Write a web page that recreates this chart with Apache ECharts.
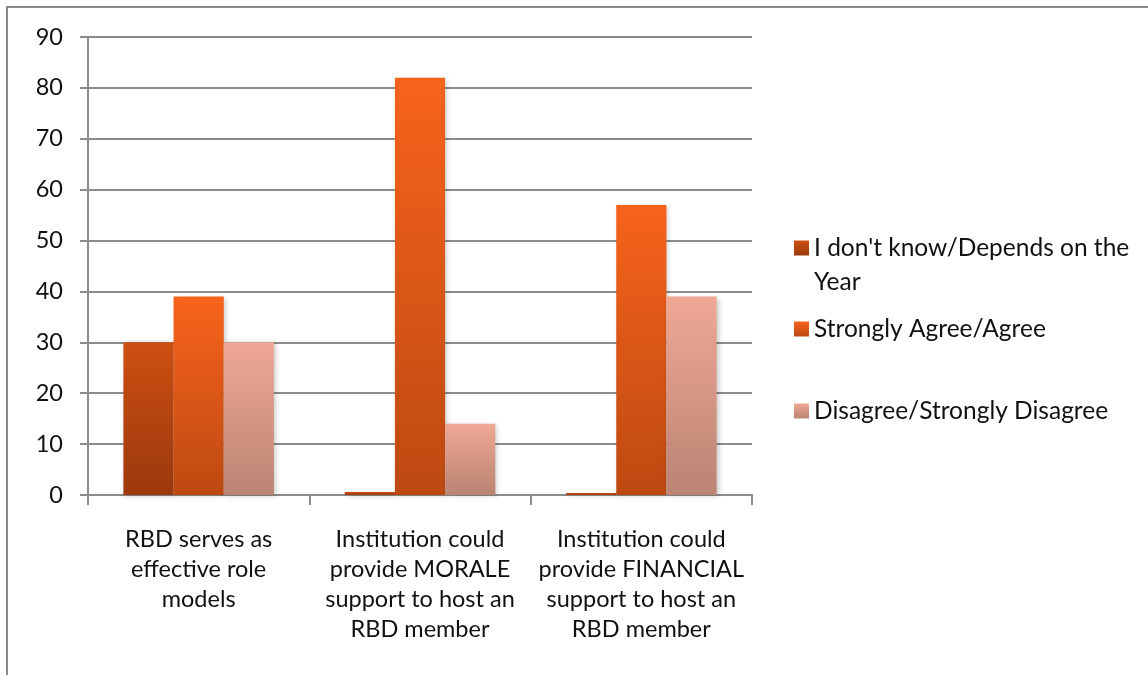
<!DOCTYPE html>
<html>
<head>
<meta charset="utf-8">
<style>
  html, body { margin: 0; padding: 0; background: #ffffff; }
  #chart { width: 1148px; height: 675px; }
</style>
<script src="https://cdn.jsdelivr.net/npm/echarts@6/dist/echarts.min.js"></script>
</head>
<body>
<div id="chart"></div>
<script>
// Survey questions (x-axis categories)
const categories = [
  "RBD serves as\neffective role\nmodels",
  "Institution could\nprovide MORALE\nsupport to host an\nRBD member",
  "Institution could\nprovide FINANCIAL\nsupport to host an\nRBD member"
];

// Response series (percent)
const seriesNames = [
  "I don't know/Depends on the Year",
  "Strongly Agree/Agree",
  "Disagree/Strongly Disagree"
];
const dontKnow = [30, 0.6, 0.4];
const agree = [39, 82, 57];
const disagree = [30, 14, 39];

const yTicks = { min: 0, max: 90, interval: 10 };

const FONT = "Lato, 'Open Sans', sans-serif";
const FONT_SIZE = 23.5;
const LEGEND_FONT_SIZE = 24.5;
const TEXT_COLOR = '#111111';

function grad(top, bottom) {
  return new echarts.graphic.LinearGradient(0, 0, 0, 1, [
    { offset: 0, color: top },
    { offset: 1, color: bottom }
  ]);
}

const palette = [
  grad('#cd4f12', '#9b390d'),
  grad('#f7631b', '#bd4912'),
  grad('#f0a895', '#ba8473')
];

const values = [dontKnow, agree, disagree];

const chart = echarts.init(document.getElementById('chart'), null, { renderer: 'canvas' });

const legendText = { fontFamily: FONT, fontSize: LEGEND_FONT_SIZE, color: TEXT_COLOR, lineHeight: 34 };

const legendBase = {
  orient: 'vertical',
  left: 789,
  icon: 'rect',
  itemWidth: 15,
  itemHeight: 15,
  itemGap: 0,
  selectedMode: false,
  textStyle: legendText
};

chart.setOption({
  animation: false,
  backgroundColor: '#ffffff',
  graphic: [{
    type: 'rect',
    shape: { x: 7, y: 7, width: 1200, height: 720 },
    style: { fill: 'none', stroke: '#8a8a8a', lineWidth: 2 },
    silent: true
  }],
  grid: { left: 88, right: 396, top: 37, bottom: 180, containLabel: false },
  legend: [
    Object.assign({}, legendBase, {
      top: 192,
      data: [seriesNames[0]],
      // empty first line keeps the marker beside the first text line
      formatter: () => "{pad|}\n{t|I don't know/Depends on the}\n{t|Year}",
      textStyle: Object.assign({}, legendText, {
        rich: {
          pad: { lineHeight: 34, fontSize: LEGEND_FONT_SIZE },
          t: { lineHeight: 34, fontSize: LEGEND_FONT_SIZE, fontFamily: FONT, color: TEXT_COLOR }
        }
      })
    }),
    Object.assign({}, legendBase, { top: 307, data: [seriesNames[1]] }),
    Object.assign({}, legendBase, { top: 389, data: [seriesNames[2]] })
  ],
  xAxis: {
    type: 'category',
    data: categories,
    boundaryGap: true,
    axisLine: { show: true, lineStyle: { color: '#8c8c8c', width: 2 } },
    axisTick: { show: true, length: 10, lineStyle: { color: '#8c8c8c', width: 2 } },
    axisLabel: {
      fontFamily: FONT, fontSize: FONT_SIZE, color: TEXT_COLOR,
      lineHeight: 30, margin: 29, align: 'center', interval: 0
    }
  },
  yAxis: {
    type: 'value',
    min: yTicks.min, max: yTicks.max, interval: yTicks.interval,
    axisLine: { show: true, lineStyle: { color: '#8c8c8c', width: 2 } },
    axisTick: { show: true, length: 8, lineStyle: { color: '#8c8c8c', width: 2 } },
    axisLabel: { fontFamily: FONT, fontSize: FONT_SIZE, color: TEXT_COLOR, margin: 25 },
    splitLine: { show: true, lineStyle: { color: '#8c8c8c', width: 2 } }
  },
  series: seriesNames.map((name, i) => ({
    name: name,
    type: 'bar',
    data: values[i],
    barGap: '0%',
    barCategoryGap: '32%',
    itemStyle: {
      color: palette[i],
      shadowBlur: 5,
      shadowColor: 'rgba(0,0,0,0.22)',
      shadowOffsetX: 2,
      shadowOffsetY: 1
    }
  }))
});
</script>
</body>
</html>
